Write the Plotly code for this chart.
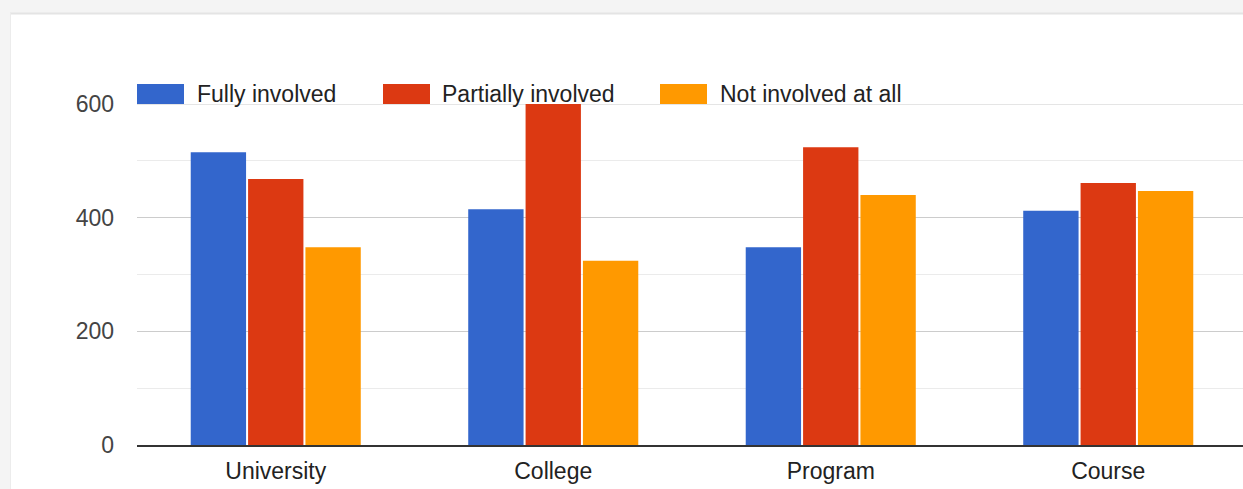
import plotly.graph_objects as go

categories = ["University", "College", "Program", "Course"]
fully_involved = [515, 415, 348, 412]
partially_involved = [468, 600, 524, 461]
not_involved = [348, 324, 440, 447]

series_names = ["Fully involved", "Partially involved", "Not involved at all"]
series_colors = ["#3366cc", "#dc3912", "#ff9900"]
y_ticks = [0, 200, 400, 600]

W, H = 1243, 489
L, R, T, B = 137, 0, 104, 44
PW, PH = W - L - R, H - T - B


def px_x(p):
    return (p - L) / PW


def px_y(p):
    return (H - B - p) / PH


FONT = "Liberation Sans, Arial, sans-serif"

fig = go.Figure()
for name, vals, color in zip(series_names,
                             [fully_involved, partially_involved, not_involved],
                             series_colors):
    fig.add_trace(go.Bar(
        x=categories, y=vals, name=name,
        marker=dict(color=color, line=dict(width=0)),
        showlegend=False,
    ))

shapes = []
annotations = []

# page backdrop and card edge
shapes.append(dict(type="rect", xref="paper", yref="paper",
                   x0=px_x(0), x1=px_x(W), y0=px_y(0), y1=px_y(13),
                   fillcolor="#f4f4f4", line=dict(width=0), layer="below"))
shapes.append(dict(type="rect", xref="paper", yref="paper",
                   x0=px_x(0), x1=px_x(10), y0=px_y(0), y1=px_y(H),
                   fillcolor="#f4f4f4", line=dict(width=0), layer="below"))
shapes.append(dict(type="line", xref="paper", yref="paper",
                   x0=px_x(10), x1=px_x(W), y0=px_y(13.5), y1=px_y(13.5),
                   line=dict(color="#e4e4e4", width=2), layer="below"))
shapes.append(dict(type="line", xref="paper", yref="paper",
                   x0=px_x(10.5), x1=px_x(10.5), y0=px_y(13), y1=px_y(H),
                   line=dict(color="#ececec", width=1), layer="below"))

# top gridline at the axis maximum
shapes.append(dict(type="line", xref="paper", yref="y",
                   x0=0, x1=1, y0=y_ticks[-1], y1=y_ticks[-1],
                   line=dict(color="#cccccc", width=1), layer="below"))

# legend swatches and labels
legend_swatch_x = [137, 383, 660]
legend_text_x = [195, 440, 718]
for name, color, sx, tx in zip(series_names, series_colors, legend_swatch_x, legend_text_x):
    shapes.append(dict(type="rect", xref="paper", yref="paper",
                       x0=px_x(sx), x1=px_x(sx + 47), y0=px_y(104), y1=px_y(84),
                       fillcolor=color, line=dict(width=0), layer="above"))
    annotations.append(dict(xref="paper", yref="paper", x=px_x(tx), y=px_y(94),
                            text=name, showarrow=False, xanchor="left", yanchor="middle",
                            font=dict(family=FONT, size=23, color="#222222")))

fig.update_layout(
    width=W, height=H,
    margin=dict(l=L, r=R, t=T, b=B, autoexpand=False),
    paper_bgcolor="#ffffff", plot_bgcolor="#ffffff",
    barmode="group", bargap=0.38, bargroupgap=0.035,
    font=dict(family=FONT, size=23, color="#444444"),
    shapes=shapes, annotations=annotations,
    showlegend=False,
    xaxis=dict(
        range=[-0.5, -0.5 + PW / 277.5],
        showgrid=False, zeroline=False,
        showline=True, linecolor="#333333", linewidth=2,
        ticks="", ticklabelstandoff=4,
        tickfont=dict(size=23, color="#222222"),
        fixedrange=True,
    ),
    yaxis=dict(
        range=[0, 600], tickvals=y_ticks,
        showgrid=True, gridcolor="#cccccc", gridwidth=1,
        minor=dict(dtick=100, showgrid=True, gridcolor="#ebebeb", gridwidth=1),
        zeroline=False, showline=False,
        ticks="", ticklabelstandoff=22,
        tickfont=dict(size=23, color="#444444"),
        fixedrange=True,
    ),
)

fig.write_html("out.html")
